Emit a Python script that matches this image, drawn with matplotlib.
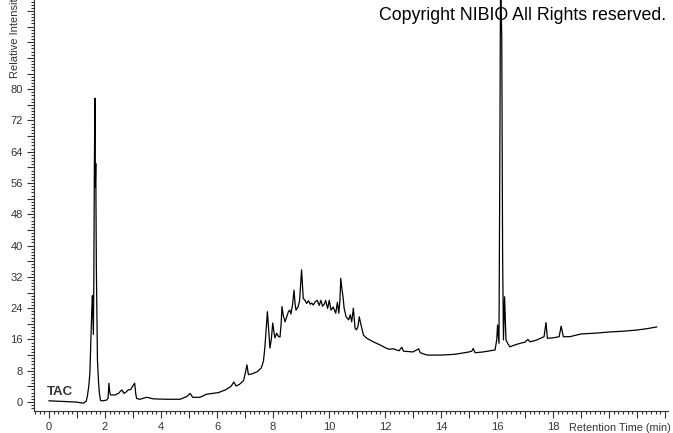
import matplotlib
matplotlib.use("Agg")
import matplotlib.pyplot as plt
from matplotlib.ticker import MultipleLocator

# Cromatograma TAC, valores
rt = [0.00, 0.30, 0.63, 0.95, 1.23, 1.33, 1.37, 1.42, 1.46, 1.50, 1.53, 1.55, 1.57, 1.585,
      1.60, 1.62, 1.64, 1.655, 1.67, 1.69, 1.73, 1.77, 1.80, 1.84, 1.92, 2.06, 2.11, 2.14,
      2.17, 2.20, 2.36, 2.48, 2.60, 2.68, 2.76, 2.83, 2.92, 3.01, 3.06, 3.10, 3.13, 3.25,
      3.49, 3.73, 4.20, 4.68, 4.92, 5.04, 5.13, 5.39, 5.63, 6.05, 6.30, 6.50, 6.60, 6.68,
      6.80, 6.95, 7.03, 7.07, 7.12, 7.25, 7.45, 7.58, 7.66, 7.71, 7.76, 7.80, 7.85, 7.89,
      7.94, 7.99, 8.03, 8.07, 8.13, 8.19, 8.25, 8.29, 8.32, 8.37, 8.43, 8.50, 8.55, 8.60,
      8.64, 8.70, 8.75, 8.79, 8.82, 8.90, 8.95, 9.02, 9.05, 9.08, 9.14, 9.20, 9.27, 9.33,
      9.38, 9.44, 9.50, 9.58, 9.65, 9.71, 9.77, 9.83, 9.88, 9.95, 10.01, 10.07, 10.15,
      10.24, 10.30, 10.35, 10.39, 10.42, 10.46, 10.50, 10.54, 10.61, 10.70, 10.76, 10.81,
      10.87, 10.93, 10.99, 11.04, 11.08, 11.14, 11.23, 11.35, 11.58, 11.82, 12.06, 12.15,
      12.30, 12.50, 12.60, 12.66, 13.00, 13.20, 13.26, 13.50, 14.00, 14.50, 15.00, 15.10,
      15.15, 15.22, 15.50, 15.93, 15.99, 16.02, 16.07, 16.10, 16.13, 16.15, 16.17, 16.20,
      16.23, 16.27, 16.32, 16.38, 16.46, 16.60, 16.82, 17.00, 17.10, 17.18, 17.40, 17.68,
      17.75, 17.80, 18.00, 18.22, 18.29, 18.37, 18.60, 19.00, 19.50, 20.00, 20.50, 21.00,
      21.40, 21.70]
intensity = [0.3, 0.2, 0.1, 0.0, -0.3, 0.2, 1.5, 4.0, 7.4, 17.0, 24.0, 27.2, 21.0, 17.3,
             30.0, 60.0, 77.7, 55.0, 61.0, 35.0, 10.7, 5.0, 2.2, 0.4, 0.3, 0.5, 1.0, 4.8,
             2.5, 1.8, 1.8, 2.2, 3.1, 2.2, 2.6, 3.1, 3.2, 4.3, 4.8, 2.0, 0.9, 0.7,
             1.2, 0.8, 0.7, 0.7, 1.4, 2.2, 1.2, 1.2, 2.0, 2.4, 3.1, 4.0, 5.1, 4.1,
             4.5, 5.5, 8.0, 9.5, 7.0, 7.2, 7.8, 8.7, 10.5, 14.0, 19.0, 23.1, 18.0, 13.8,
             16.0, 20.2, 18.0, 16.4, 17.6, 16.8, 16.6, 20.0, 24.4, 22.0, 20.5, 22.0, 23.1, 23.5,
             22.5, 25.0, 28.6, 25.0, 23.5, 24.4, 26.0, 33.8, 30.0, 26.5, 26.0, 25.2, 25.9, 25.0,
             25.3, 24.8, 25.6, 26.0, 24.7, 26.0, 24.5, 25.0, 26.0, 23.9, 26.0, 23.5, 24.3,
             22.7, 25.5, 22.7, 26.0, 31.6, 29.0, 26.9, 24.0, 21.8, 21.0, 22.3, 20.5,
             24.0, 18.8, 18.5, 19.5, 21.8, 19.8, 17.1, 16.3, 15.4, 14.6, 13.7, 13.5,
             13.6, 13.1, 14.0, 13.0, 12.8, 13.6, 12.6, 12.0, 12.0, 12.2, 12.8, 13.0,
             13.7, 12.6, 12.8, 13.3, 15.9, 19.7, 15.0, 60.2, 115.0, 100.0, 93.4, 38.0,
             15.9, 26.9, 15.9, 15.0, 14.1, 14.5, 15.0, 15.3, 16.0, 15.4, 15.8, 16.7,
             20.3, 16.3, 16.4, 16.7, 19.4, 16.7, 16.7, 17.4, 17.6, 17.9, 18.1, 18.4,
             18.8, 19.2]

x_labels = ["0", "2", "4", "6", "8", "10", "12", "14", "16", "18"]
y_labels = ["0", "8", "16", "24", "32", "40", "48", "56", "64", "72", "80"]

plt.rcParams["font.family"] = ["Liberation Sans", "DejaVu Sans"]
cinza = "#333333"

fig = plt.figure(figsize=(6.73, 4.33), dpi=100)
ax = fig.add_axes([34 / 673, 22 / 433, 634 / 673, 411 / 433])

ax.plot(rt, intensity, color="black", lw=0.9)

ax.set_xlim(-0.536, 22.107)
ax.set_ylim(-2.3, 102.8)

for lado in ["top", "right"]:
    ax.spines[lado].set_visible(False)
for lado in ["left", "bottom"]:
    ax.spines[lado].set_color(cinza)
    ax.spines[lado].set_linewidth(0.8)

# eixo x: números só até 18
ax.xaxis.set_major_locator(MultipleLocator(1))
ax.xaxis.set_minor_locator(MultipleLocator(1 / 6))
ax.xaxis.set_major_formatter(plt.FuncFormatter(
    lambda v, p: x_labels[int(round(v)) // 2] if 0 <= v <= 18.01 and int(round(v)) % 2 == 0 else ""))

# eixo y: números só até 80
ax.yaxis.set_major_locator(MultipleLocator(4))
ax.yaxis.set_minor_locator(MultipleLocator(0.8))
ax.yaxis.set_major_formatter(plt.FuncFormatter(
    lambda v, p: y_labels[int(round(v)) // 8] if 0 <= v <= 80.01 and int(round(v)) % 8 == 0 else ""))

ax.tick_params(which="major", length=5, width=0.8, color=cinza, labelsize=8,
               labelcolor=cinza, pad=3)
ax.tick_params(which="minor", length=2.5, width=0.8, color=cinza)

fig.text(671 / 673, 1 - 428 / 433, "Retention Time (min)", fontsize=7.8, color=cinza,
         ha="right", va="center")
fig.text(15 / 673, 1 - 78 / 433, "Relative Intensity", fontsize=8, color=cinza,
         rotation=90, ha="center", va="bottom")
fig.text(666 / 673, 1 - 16 / 433, "Copyright NIBIO All Rights reserved.", fontsize=12.8,
         color="black", ha="right", va="center")
ax.text(-0.07, 2.6, "TAC", fontsize=9.5, fontweight="bold", color=cinza,
        ha="left", va="center")

plt.savefig("out.png", dpi=100)
